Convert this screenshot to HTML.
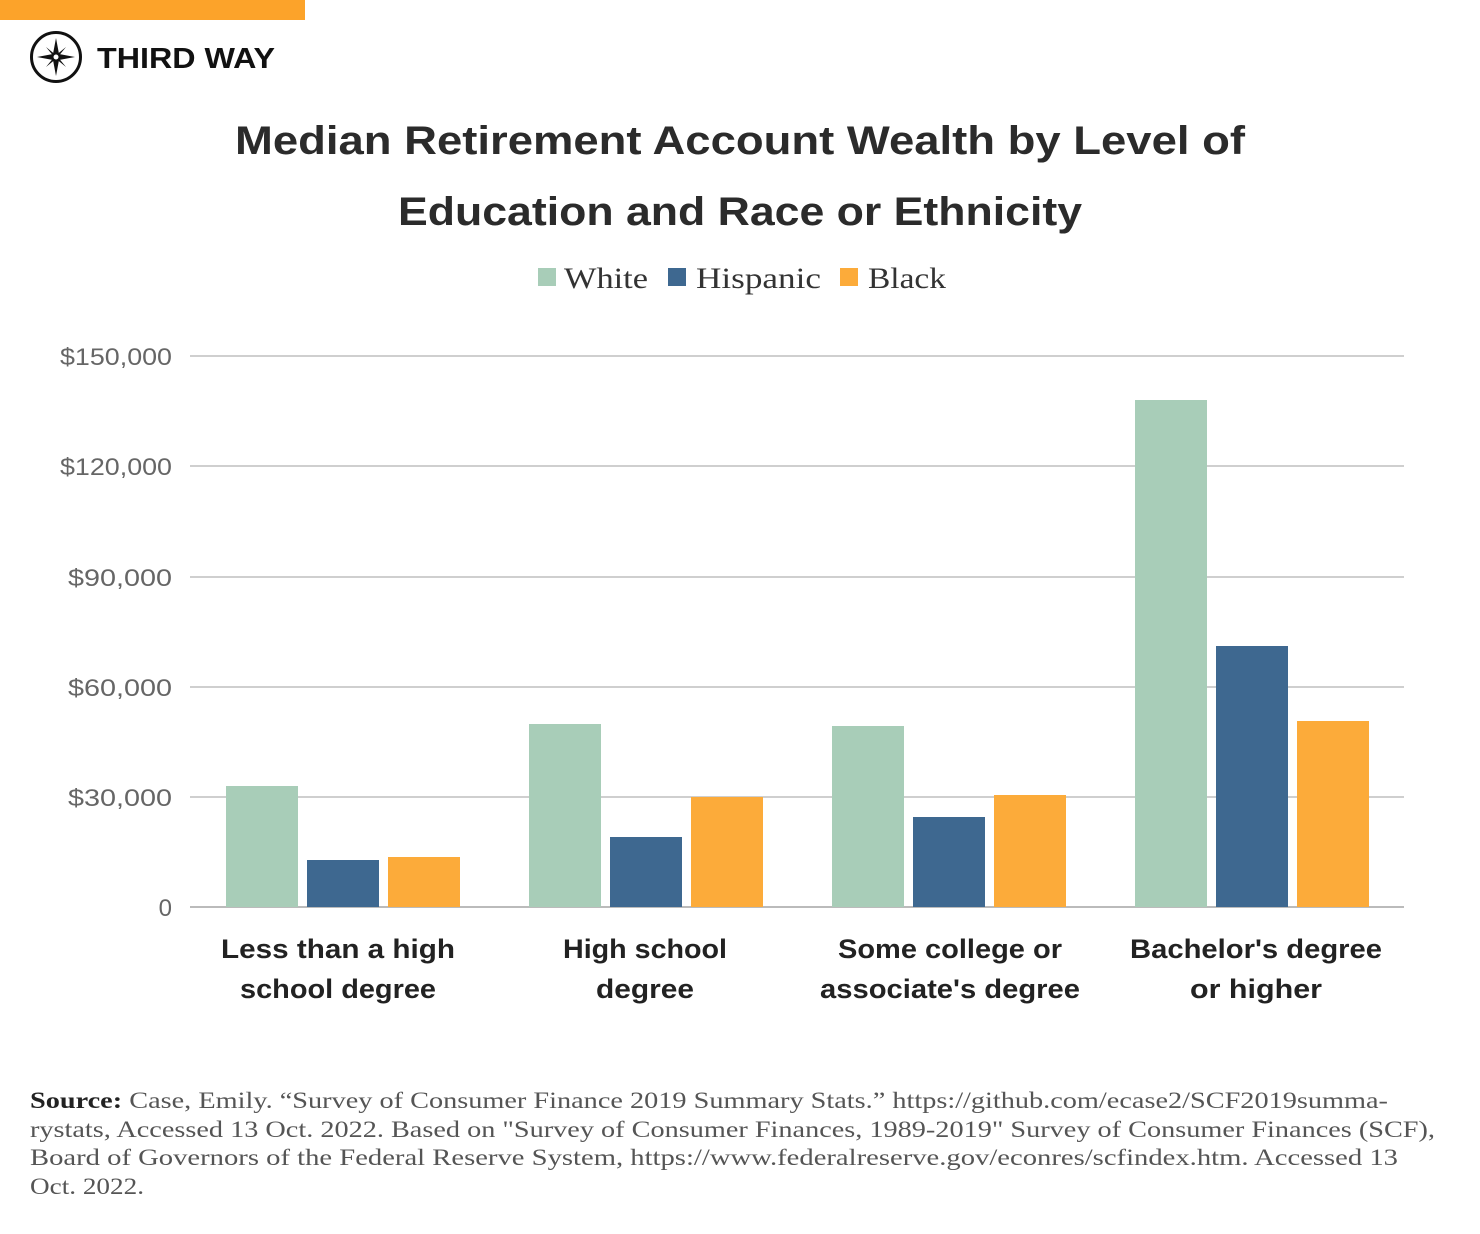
<!DOCTYPE html>
<html><head><meta charset="utf-8"><style>
html,body{margin:0;padding:0;background:#fff;}
svg{display:block;}
</style></head><body>
<svg width="1480" height="1234" viewBox="0 0 1480 1234" xmlns="http://www.w3.org/2000/svg">
<rect x="0" y="0" width="305" height="20" fill="#fca32a"/>
<circle cx="56" cy="57" r="24.5" fill="none" stroke="#111" stroke-width="3"/>
<polygon points="56,38 59,54 75,57 59,60 56,76 53,60 37,57 53,54" fill="#111"/>
<polygon points="46,47 57,56 66,67 55,58" fill="#111"/>
<polygon points="66,47 57,58 46,67 55,56" fill="#111"/>
<circle cx="56" cy="57" r="2.5" fill="#fff"/>
<text x="97" y="68" font-family="Liberation Sans, sans-serif" font-weight="bold" font-size="29" fill="#111" textLength="178" lengthAdjust="spacingAndGlyphs">THIRD WAY</text>
<g font-family="Liberation Sans, sans-serif" font-weight="bold" font-size="40" fill="#2b2b2b" text-anchor="middle">
<text x="740" y="154" textLength="1010" lengthAdjust="spacingAndGlyphs">Median Retirement Account Wealth by Level of</text>
<text x="740" y="225" textLength="684" lengthAdjust="spacingAndGlyphs">Education and Race or Ethnicity</text>
</g>
<g font-family="Liberation Serif, serif" font-size="30" fill="#333">
<rect x="538" y="268" width="18" height="18" fill="#a8cdb8"/><text x="564" y="288" textLength="84" lengthAdjust="spacingAndGlyphs">White</text>
<rect x="668" y="268" width="18" height="18" fill="#3e6890"/><text x="696" y="288" textLength="125" lengthAdjust="spacingAndGlyphs">Hispanic</text>
<rect x="840" y="268" width="18" height="18" fill="#fcab3a"/><text x="868" y="288" textLength="78" lengthAdjust="spacingAndGlyphs">Black</text>
</g>
<g stroke="#cfcfcf" stroke-width="2">
<line x1="190" y1="356" x2="1404" y2="356"/><line x1="190" y1="466" x2="1404" y2="466"/>
<line x1="190" y1="577" x2="1404" y2="577"/><line x1="190" y1="687" x2="1404" y2="687"/>
<line x1="190" y1="797" x2="1404" y2="797"/>
</g>
<line x1="190" y1="907" x2="1404" y2="907" stroke="#bbb" stroke-width="2"/>
<g font-family="Liberation Sans, sans-serif" font-size="24" fill="#666" text-anchor="end">
<text x="172" y="365" textLength="112" lengthAdjust="spacingAndGlyphs">$150,000</text><text x="172" y="475" textLength="112" lengthAdjust="spacingAndGlyphs">$120,000</text>
<text x="172" y="586" textLength="104" lengthAdjust="spacingAndGlyphs">$90,000</text><text x="172" y="696" textLength="104" lengthAdjust="spacingAndGlyphs">$60,000</text>
<text x="172" y="806" textLength="104" lengthAdjust="spacingAndGlyphs">$30,000</text><text x="172" y="916">0</text>
</g>
<g>
<rect x="226" y="786" width="72" height="121" fill="#a8cdb8"/>
<rect x="307" y="860" width="72" height="47" fill="#3e6890"/>
<rect x="388" y="857" width="72" height="50" fill="#fcab3a"/>
<rect x="529" y="724" width="72" height="183" fill="#a8cdb8"/>
<rect x="610" y="837" width="72" height="70" fill="#3e6890"/>
<rect x="691" y="797" width="72" height="110" fill="#fcab3a"/>
<rect x="832" y="726" width="72" height="181" fill="#a8cdb8"/>
<rect x="913" y="817" width="72" height="90" fill="#3e6890"/>
<rect x="994" y="795" width="72" height="112" fill="#fcab3a"/>
<rect x="1135" y="400" width="72" height="507" fill="#a8cdb8"/>
<rect x="1216" y="646" width="72" height="261" fill="#3e6890"/>
<rect x="1297" y="721" width="72" height="186" fill="#fcab3a"/>
</g>
<g font-family="Liberation Sans, sans-serif" font-weight="bold" font-size="27" fill="#222" text-anchor="middle">
<text x="338" y="958" textLength="234" lengthAdjust="spacingAndGlyphs">Less than a high</text><text x="338" y="998" textLength="196" lengthAdjust="spacingAndGlyphs">school degree</text>
<text x="645" y="958" textLength="164" lengthAdjust="spacingAndGlyphs">High school</text><text x="645" y="998" textLength="98" lengthAdjust="spacingAndGlyphs">degree</text>
<text x="950" y="958" textLength="224" lengthAdjust="spacingAndGlyphs">Some college or</text><text x="950" y="998" textLength="260" lengthAdjust="spacingAndGlyphs">associate's degree</text>
<text x="1256" y="958" textLength="252" lengthAdjust="spacingAndGlyphs">Bachelor's degree</text><text x="1256" y="998" textLength="132" lengthAdjust="spacingAndGlyphs">or higher</text>
</g>
<g font-family="Liberation Serif, serif" font-size="23" fill="#555">
<text x="30" y="1108" textLength="1358" lengthAdjust="spacingAndGlyphs"><tspan font-weight="bold" fill="#222">Source:</tspan> Case, Emily. “Survey of Consumer Finance 2019 Summary Stats.” https://github.com/ecase2/SCF2019summa-</text>
<text x="30" y="1137" textLength="1405" lengthAdjust="spacingAndGlyphs">rystats, Accessed 13 Oct. 2022. Based on "Survey of Consumer Finances, 1989-2019" Survey of Consumer Finances (SCF),</text>
<text x="30" y="1165" textLength="1368" lengthAdjust="spacingAndGlyphs">Board of Governors of the Federal Reserve System, https://www.federalreserve.gov/econres/scfindex.htm. Accessed 13</text>
<text x="30" y="1194" textLength="114" lengthAdjust="spacingAndGlyphs">Oct. 2022.</text>
</g>
</svg>
</body></html>
